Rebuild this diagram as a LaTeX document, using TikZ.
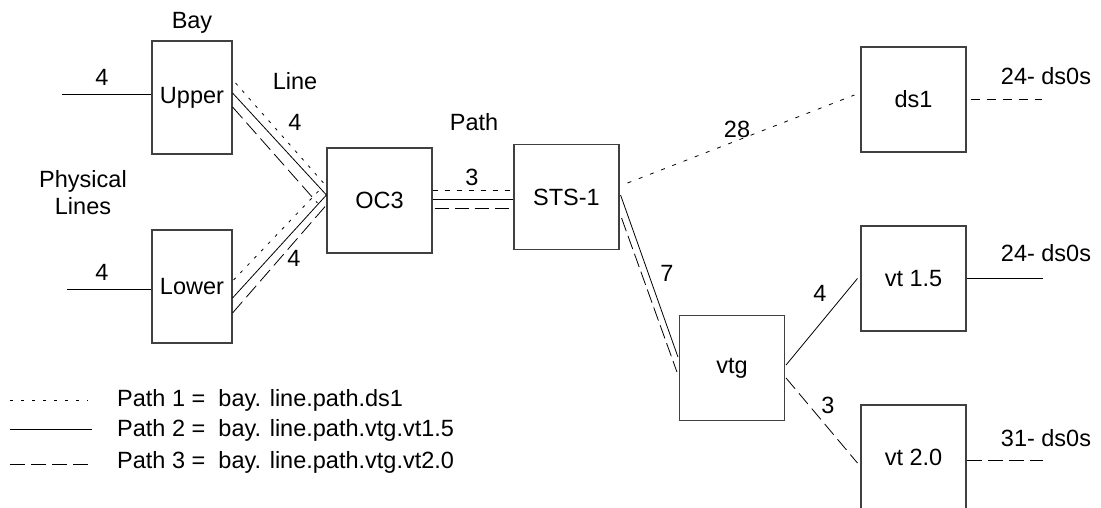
\documentclass[tikz,border=0pt]{standalone}
\usepackage{fontspec}
\setmainfont{Liberation Sans}
\usetikzlibrary{positioning}

\begin{document}
\begin{tikzpicture}[x=1pt,y=-1pt,
box/.style={draw=black!75,line width=1.1pt,minimum width=105pt,minimum height=105pt,inner sep=0pt},
bay/.style={box,minimum width=80pt,minimum height=113pt},
lbl/.style={inner sep=0pt},
wire/.style={line width=0.8pt},
dotwire/.style={wire,dash pattern=on 3pt off 7pt},
dashwire/.style={wire,dash pattern=on 15pt off 6pt},
outdash/.style={wire,dash pattern=on 9pt off 7pt},
every node/.style={font=\fontsize{23.5}{27}\selectfont}]
\useasboundingbox (0,0) rectangle (1101,508);
% boxes
\node[bay] (up) at (192,97.5) {Upper};
\node[bay] (low) at (192,286.5) {Lower};
\node[box] (oc3) at (379.5,200.5) {OC3};
\node[box] (sts) at (566.5,197) {STS-1};
\node[box] (ds1) at (913.5,99.5) {ds1};
\node[box] (vt15) at (913.5,278.5) {vt 1.5};
\node[box] (vtg) at (732,368) {vtg};
\node[box] (vt20) at (913.5,457.5) {vt 2.0};
% labels
\node[lbl] (baylbl) at (192,23) {Bay};
\node[lbl] (linelbl) at (295,81) {Line};
\node[lbl] (pathlbl) at (474,122) {Path};
\node[lbl,align=center] (phys) at (83,193) {Physical\\Lines};
\node[lbl] (nup) at (102,77) {4};
\node[lbl] (nlow) at (102,272) {4};
\node[lbl] (nupoc) at (295,122) {4};
\node[lbl] (nlowoc) at (294,258) {4};
\node[lbl] (noc) at (472,177) {3};
\node[lbl] (nds1) at (737,129) {28};
\node[lbl] (nvtg) at (667,273) {7};
\node[lbl] (nvt15) at (820,293) {4};
\node[lbl] (nvt20) at (828,405) {3};
\node[lbl] (ods1) at (1046,76) {24- ds0s};
\node[lbl] (ovt15) at (1046,253) {24- ds0s};
\node[lbl] (ovt20) at (1046,438) {31- ds0s};
% free ends
\coordinate (upin) at (62,94);
\coordinate (lowin) at (67,289);
\coordinate (ds1out) at (1042,99.5);
\coordinate (vt15out) at (1043,278.5);
\coordinate (vt20out) at (1043,460);
% physical lines
\draw[wire] (upin) -- ([yshift=3.5pt]up.west);
\draw[wire] (lowin) -- ([yshift=-2.5pt]low.west);
% bay to oc3
\draw[dotwire] ([xshift=3pt,yshift=14.5pt]up.east) -- ([xshift=-2pt,yshift=16.5pt]oc3.west);
\draw[wire] ([yshift=4.5pt]up.east) -- ([yshift=5.5pt]oc3.west);
\draw[dashwire] ([yshift=-9.5pt]up.east) -- ([xshift=-9pt,yshift=-2.5pt]oc3.west);
\draw[dotwire] ([xshift=1pt,yshift=6.5pt]low.east) -- ([xshift=-5pt,yshift=12.5pt]oc3.west);
\draw[wire] ([yshift=-11.5pt]low.east) -- ([yshift=5.5pt]oc3.west);
\draw[dashwire] ([yshift=-26.5pt]low.east) -- ([yshift=-4.5pt]oc3.west);
% oc3 to sts-1
\draw[dotwire,dash pattern=on 5pt off 7pt] ([yshift=10.5pt]oc3.east) -- ([yshift=7pt]sts.west);
\draw[wire] ([yshift=1.5pt]oc3.east) -- ([yshift=-2pt]sts.west);
\draw[dashwire,dash pattern=on 14pt off 6pt] ([xshift=2pt,yshift=-7.5pt]oc3.east) -- ([xshift=-4pt,yshift=-11pt]sts.west);
% sts-1 onwards
\draw[dotwire,dash pattern=on 4pt off 8pt] ([xshift=8pt,yshift=14pt]sts.east) -- ([xshift=-6pt,yshift=4.5pt]ds1.west);
\draw[wire] ([xshift=1pt,yshift=2pt]sts.east) -- ([xshift=-1pt,yshift=11pt]vtg.west);
\draw[dashwire,dash pattern=on 14pt off 5pt] ([xshift=2pt,yshift=-21pt]sts.east) -- ([xshift=-2pt,yshift=-4pt]vtg.west);
\draw[wire] ([xshift=1pt,yshift=3pt]vtg.east) -- ([xshift=-3pt]vt15.west);
\draw[dashwire,dash pattern=on 14pt off 6pt] ([xshift=1pt,yshift=-10pt]vtg.east) -- ([xshift=-3pt,yshift=-5.5pt]vt20.west);
% outputs
\draw[outdash] ([xshift=4pt]ds1.east) -- (ds1out);
\draw[wire] (vt15.east) -- (vt15out);
\draw[dashwire] ([yshift=-2.5pt]vt20.east) -- (vt20out);
% legend
\node[lbl,anchor=west] (leg1) at (117,400) {Path 1 =\ \ bay. line.path.ds1};
\node[lbl,anchor=west] (leg2) at (117,430) {Path 2 =\ \ bay. line.path.vtg.vt1.5};
\node[lbl,anchor=west] (leg3) at (117,462) {Path 3 =\ \ bay. line.path.vtg.vt2.0};
\coordinate (l1a) at (10,400); \coordinate (l1b) at (88,400);
\coordinate (l2a) at (10,429); \coordinate (l2b) at (92,429);
\coordinate (l3a) at (10,464); \coordinate (l3b) at (92,464);
\draw[dotwire,dash pattern=on 3pt off 8pt] (l1a) -- (l1b);
\draw[wire] (l2a) -- (l2b);
\draw[dashwire,dash pattern=on 15pt off 6pt] (l3a) -- (l3b);
\end{tikzpicture}
\end{document}
